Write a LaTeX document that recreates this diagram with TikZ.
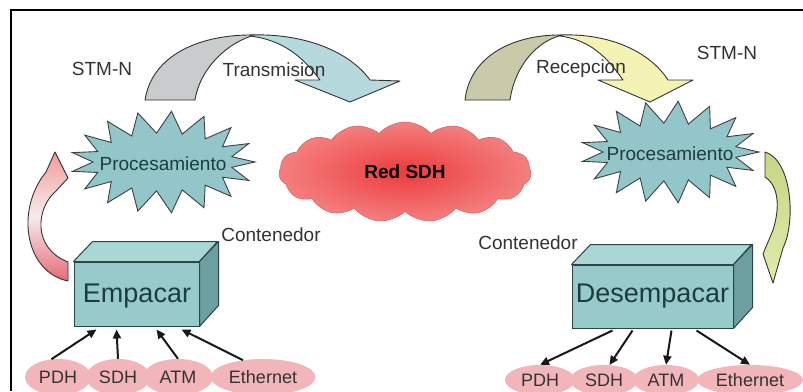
\documentclass[tikz,border=0pt]{standalone}
\usepackage{fontspec}
\setmainfont{Liberation Sans}
\usetikzlibrary{shapes.geometric,shapes.symbols,arrows.meta}
\definecolor{starteal}{HTML}{93C6C8}
\definecolor{boxfront}{HTML}{96CACB}
\definecolor{boxtop}{HTML}{AAD6D6}
\definecolor{boxside}{HTML}{6E9FA0}
\definecolor{boxline}{HTML}{2A4646}
\definecolor{tgrey}{HTML}{C8CCCC}
\definecolor{tblue}{HTML}{B5D9DC}
\definecolor{rbeige}{HTML}{CACAAA}
\definecolor{ryellow}{HTML}{F5F3B4}
\definecolor{pinkell}{HTML}{F2B6BA}
\definecolor{cloudin}{HTML}{EC3C3C}
\definecolor{cloudout}{HTML}{F47F7F}
\definecolor{labtext}{HTML}{333333}
\definecolor{darkteal}{HTML}{1E3C40}
\definecolor{greentop}{HTML}{C6D585}
\definecolor{greenbot}{HTML}{E0ECAA}
\definecolor{pinktop}{HTML}{F29A9A}
\definecolor{pinkmid}{HTML}{F6ECEC}
\definecolor{pinkbot}{HTML}{E66A76}
\begin{document}
\begin{tikzpicture}[x=1pt,y=-1pt,
  lab/.style={text=labtext,font=\fontsize{19}{22}\selectfont,inner sep=0pt},
  ribbon/.style={draw=black!80,line width=0.9pt,line join=round},
  starsty/.style={fill=starteal,draw=black!75,line width=0.9pt,line join=miter},
  frontbox/.style={rectangle,fill=boxfront,draw=boxline,line width=1pt,text=darkteal,font=\fontsize{26}{30}\selectfont},
  topface/.style={fill=boxtop,draw=boxline,line width=1pt,line join=round},
  sideface/.style={fill=boxside,draw=boxline,line width=1pt,line join=round},
  pill/.style={ellipse,fill=pinkell,inner sep=0pt,text=labtext,font=\fontsize{18}{21}\selectfont},
  feed/.style={draw=black!90,line width=2pt,-{Triangle[length=9pt,width=8pt]}}
]
\useasboundingbox (0,0) rectangle (803,391);
\fill[white] (0,0) rectangle (803,391);
\draw[line width=1.6pt] (11,391) -- (11,10) -- (803,10);

% Transmision arrow
\draw[ribbon,fill=tgrey] (145,100) .. controls (152,55) and (200,34) .. (255,35)
  .. controls (228,42) and (200,68) .. (195,100) -- cycle;
\draw[ribbon,fill=tblue] (250,35) .. controls (305,33) and (350,52) .. (370,80)
  -- (400,81) -- (350,102) -- (295,80) -- (320,80)
  .. controls (303,57) and (283,40) .. (250,36) -- cycle;
\node[lab] (trans) at (274,70) {Transmision};

% Recepcion arrow
\draw[ribbon,fill=rbeige] (465,100) .. controls (470,55) and (515,34) .. (563,35)
  .. controls (538,40) and (515,65) .. (510,100) -- cycle;
\draw[ribbon,fill=ryellow] (560,35) .. controls (610,33) and (650,52) .. (668,80)
  -- (693,80) -- (650,102) -- (598,80) -- (623,80)
  .. controls (607,57) and (590,40) .. (560,36) -- cycle;
\node[lab] (recep) at (581,69) {Recepcion};

\node[lab] (stmL) at (102,69) {STM-N};
\node[lab] (stmR) at (727,53) {STM-N};

% starbursts
\draw[starsty] plot[samples at={0,1,...,33},variable=\k]
  ({163+(81+11*cos(180*\k))*cos(360/34*\k)},{162+(40+11*cos(180*\k))*sin(360/34*\k)}) -- cycle;
\node[lab,text=darkteal] (procL) at (163,164) {Procesamiento};
\draw[starsty] plot[samples at={0,1,...,33},variable=\k]
  ({670+(78+11*cos(180*\k))*cos(360/34*\k)},{152+(40+11*cos(180*\k))*sin(360/34*\k)}) -- cycle;
\node[lab,text=darkteal] (procR) at (670,154) {Procesamiento};

% cloud
\node[cloud,cloud puffs=15,cloud puff arc=95,aspect=2.6,minimum width=252pt,minimum height=100pt,
  inner color=cloudin,outer color=cloudout,draw=cloudout!85!black,line width=0.6pt,
  font=\fontsize{19}{22}\selectfont\bfseries] (cloud) at (405,172) {Red SDH};

% left curved arrow (pink)
\draw[ribbon,top color=pinktop,bottom color=pinkbot,middle color=pinkmid]
  (55,152) -- (68,178) -- (56,191) .. controls (36,208) and (32,248) .. (68,262)
  -- (68,281) .. controls (25,272) and (15,210) .. (46,172) -- cycle;

% right curved arrow (green)
\draw[ribbon,top color=greentop,bottom color=greenbot]
  (765,152) .. controls (792,160) and (796,222) .. (783,248) -- (773,283)
  -- (763,254) -- (773,230) .. controls (780,208) and (779,186) .. (765,177) -- cycle;

% Empacar box
\node[frontbox,minimum width=125pt,minimum height=64pt] (emp) at (136.5,294) {};
\draw[topface] (emp.north west) -- ++(19,-20) -- ++(125,0) -- (emp.north east) -- cycle;
\draw[sideface] (emp.north east) -- ++(19,-20) -- ++(0,64) -- (emp.south east) -- cycle;
\node[font=\fontsize{27}{30}\selectfont,text=darkteal] (empt) at (137,296) {Empacar};
\node[lab] (contL) at (271,235) {Contenedor};

% Desempacar box
\node[frontbox,minimum width=161pt,minimum height=63pt] (des) at (652.5,296.5) {};
\draw[topface] (des.north west) -- ++(19,-20) -- ++(161,0) -- (des.north east) -- cycle;
\draw[sideface] (des.north east) -- ++(19,-20) -- ++(0,63) -- (des.south east) -- cycle;
\node[font=\fontsize{27}{30}\selectfont,text=darkteal] (dest) at (652.5,296) {Desempacar};
\node[lab] (contR) at (528,243) {Contenedor};

% left pills
\node[pill,minimum width=66pt,minimum height=36pt] (pdhL) at (58,377) {PDH};
\node[pill,minimum width=64pt,minimum height=36pt] (sdhL) at (118,377) {SDH};
\node[pill,minimum width=70pt,minimum height=36pt] (atmL) at (178,377) {ATM};
\node[pill,minimum width=105pt,minimum height=36pt] (ethL) at (263,377) {Ethernet};

% right pills
\node[pill,minimum width=70pt,minimum height=30pt] (pdhR) at (540,380) {PDH};
\node[pill,minimum width=68pt,minimum height=30pt] (sdhR) at (604,380) {SDH};
\node[pill,minimum width=66pt,minimum height=30pt] (atmR) at (666,380) {ATM};
\node[pill,minimum width=106pt,minimum height=30pt] (ethR) at (750,380) {Ethernet};

% feeds into Empacar
\draw[feed] (pdhL.110) -- ([xshift=23pt,yshift=-3pt]emp.south west);
\draw[feed] (sdhL.north) -- ([xshift=43pt,yshift=-3pt]emp.south west);
\draw[feed] (atmL.north) -- ([xshift=83pt,yshift=-3pt]emp.south west);
\draw[feed] (ethL.140) -- ([xshift=108pt,yshift=-3pt]emp.south west);

% feeds out of Desempacar
\draw[feed] ([xshift=41pt,yshift=-2pt]des.south west) -- (pdhR.north);
\draw[feed] ([xshift=61pt,yshift=-2pt]des.south west) -- (sdhR.70);
\draw[feed] ([xshift=100pt,yshift=-2pt]des.south west) -- (atmR.north);
\draw[feed] ([xshift=125pt,yshift=-2pt]des.south west) -- (ethR.north);
\end{tikzpicture}
\end{document}
